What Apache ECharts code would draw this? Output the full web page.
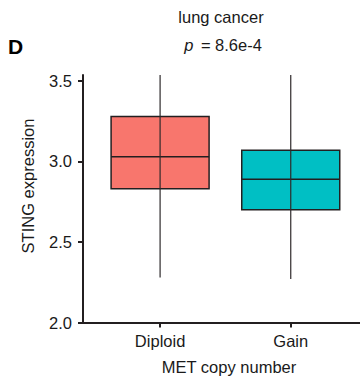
<!DOCTYPE html>
<html>
<head>
<meta charset="utf-8">
<script src="https://cdn.jsdelivr.net/npm/echarts@6/dist/echarts.min.js"></script>
<style>html,body{margin:0;padding:0;background:#fff}#c{width:360px;height:381px}</style>
</head>
<body>
<div id="c"></div>
<script>
const categories = ['Diploid', 'Gain'];
const whiskerLow = [2.28, 2.27];
const q1 = [2.83, 2.70];
const median = [3.03, 2.89];
const q3 = [3.28, 3.07];
const whiskerHigh = [3.60, 3.60];
const colors = ['#F8766D', '#00BFC4'];
const yTicks = [2.0, 2.5, 3.0, 3.5];
const xTicks = [1, 2];

const data = categories.map((c, i) => [i + 1, whiskerLow[i], q1[i], median[i], q3[i], whiskerHigh[i]]);
const ink = '#231f20';
const font = '"Liberation Sans", Arial, sans-serif';
const txt = (extra) => Object.assign({fontFamily: font, fontSize: 16.5, fill: '#1a1a1a', align: 'center', verticalAlign: 'middle'}, extra);

const chart = echarts.init(document.getElementById('c'), null, {renderer: 'svg'});
chart.setOption({
  animation: false,
  grid: {left: 83, right: 0, top: 75, bottom: 58.5},
  xAxis: {
    type: 'value', min: 0.41, max: 2.53,
    splitLine: {show: false},
    axisLine: {show: true, lineStyle: {color: ink, width: 2}},
    axisTick: {show: true, customValues: xTicks, length: 5, lineStyle: {color: ink, width: 2}},
    axisLabel: {customValues: xTicks, formatter: v => categories[Math.round(v) - 1] || '', color: '#1a1a1a', fontSize: 16.5, fontFamily: font, margin: 10}
  },
  yAxis: {
    type: 'value', min: 2, max: 3.537,
    splitLine: {show: false},
    axisLine: {show: true, lineStyle: {color: ink, width: 2}},
    axisTick: {show: true, customValues: yTicks, length: 5, lineStyle: {color: ink, width: 2}},
    axisLabel: {customValues: yTicks, formatter: v => Number(v).toFixed(1), color: '#1a1a1a', fontSize: 16.5, fontFamily: font, margin: 11}
  },
  series: [{
    type: 'custom',
    clip: true,
    data: data,
    encode: {x: 0, y: [1, 2, 3, 4, 5]},
    renderItem: function (params, api) {
      const x = api.value(0);
      const idx = params.dataIndex;
      const half = api.size([0.75, 0])[0] / 2;
      const pLow = api.coord([x, api.value(1)]);
      const pQ1 = api.coord([x, api.value(2)]);
      const pMed = api.coord([x, api.value(3)]);
      const pQ3 = api.coord([x, api.value(4)]);
      const pHigh = api.coord([x, api.value(5)]);
      const cs = params.coordSys;
      const top = Math.max(pHigh[1], cs.y);
      return {
        type: 'group',
        children: [
          {type: 'rect', shape: {x: pQ3[0] - half, y: pQ3[1], width: half * 2, height: pQ1[1] - pQ3[1]},
            style: {fill: colors[idx], stroke: ink, lineWidth: 1.5}},
          {type: 'line', shape: {x1: pMed[0] - half, y1: pMed[1], x2: pMed[0] + half, y2: pMed[1]},
            style: {stroke: ink, lineWidth: 1.5}},
          {type: 'line', shape: {x1: pLow[0], y1: pLow[1], x2: pLow[0], y2: top},
            style: {stroke: '#2e2a2b', lineWidth: 1.2}}
        ]
      };
    }
  }],
  graphic: [
    {type: 'text', x: 15.5, y: 46, style: txt({text: 'D', fontSize: 21, fontWeight: 'bold', fill: '#000'})},
    {type: 'text', x: 221, y: 17, style: txt({text: 'lung cancer'})},
    {type: 'text', x: 223, y: 45, style: txt({
      text: '{i|p} = 8.6e-4',
      rich: {i: {fontStyle: 'italic', fontSize: 16.5, fontFamily: font, fill: '#1a1a1a', padding: [0, 3, 0, 0]}}
    })},
    {type: 'text', x: 27.5, y: 186, rotation: Math.PI / 2, style: txt({text: 'STING expression'})},
    {type: 'text', x: 229, y: 367, style: txt({text: 'MET copy number'})}
  ]
});
</script>
</body>
</html>
